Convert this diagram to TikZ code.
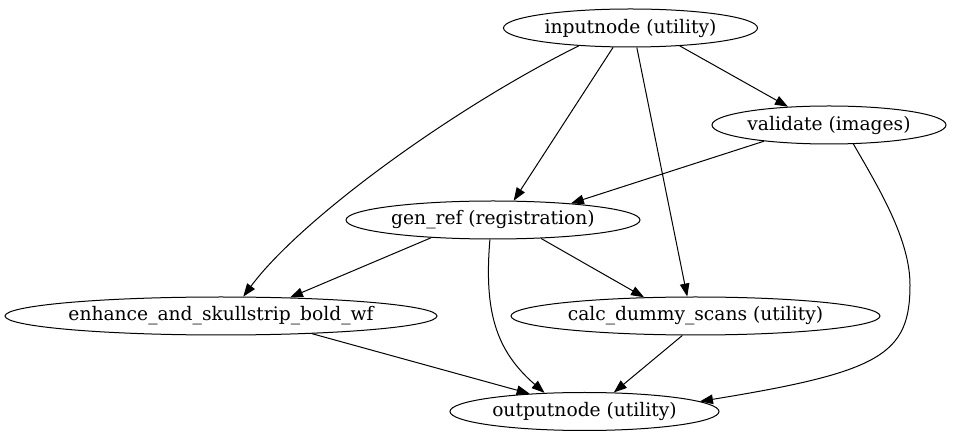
\documentclass[tikz,border=0pt]{standalone}
\usepackage{fontspec}
\setmainfont{DejaVu Serif}
\usetikzlibrary{shapes.geometric,arrows.meta}
\tikzset{
  gnode/.style={ellipse, draw, line width=1pt, inner sep=0pt, minimum height=38pt,
    font=\fontsize{18.67pt}{22pt}\selectfont},
  gedge/.style={line width=1pt, -{Triangle[length=13pt,width=9.5pt]}}
}
\begin{document}
\begin{tikzpicture}[x=1pt,y=-1pt]
\useasboundingbox (0,0) rectangle (962,443);
\node[gnode, minimum width=254pt] (in) at (630.5,28) {inputnode (utility)};
\node[gnode, minimum width=234pt] (val) at (829,125) {validate (images)};
\node[gnode, minimum width=294pt] (gen) at (493,220) {gen\_ref (registration)};
\node[gnode, minimum width=432pt] (enh) at (221,316) {enhance\_and\_skullstrip\_bold\_wf};
\node[gnode, minimum width=369pt] (calc) at (695.5,316) {calc\_dummy\_scans (utility)};
\node[gnode, minimum width=269pt] (out) at (584.5,411.5) {outputnode (utility)};

\draw[gedge] (in.199) .. controls (450,110) and (300,220) .. (enh.41);
\draw[gedge] (in.-132) -- (gen.43);
\draw[gedge] (in.-72) -- (calc.113);
\draw[gedge] (in.-20) -- (val.156.5);
\draw[gedge] (val.-166) -- (gen.12.3);
\draw[gedge] (val.-38) .. controls (880,190) and (910,240) .. (910,285)
  .. controls (910,355) and (880,372) .. (out.5);
\draw[gedge] (gen.-164.7) -- (enh.15.3);
\draw[gedge] (gen.-21.9) -- (calc.160);
\draw[gedge] (gen.-99) .. controls (484,310) and (495,350) .. (out.155);
\draw[gedge] (enh.-11.8) -- (out.162.8);
\draw[gedge] (calc.-124.8) -- (out.33.6);
\end{tikzpicture}
\end{document}
